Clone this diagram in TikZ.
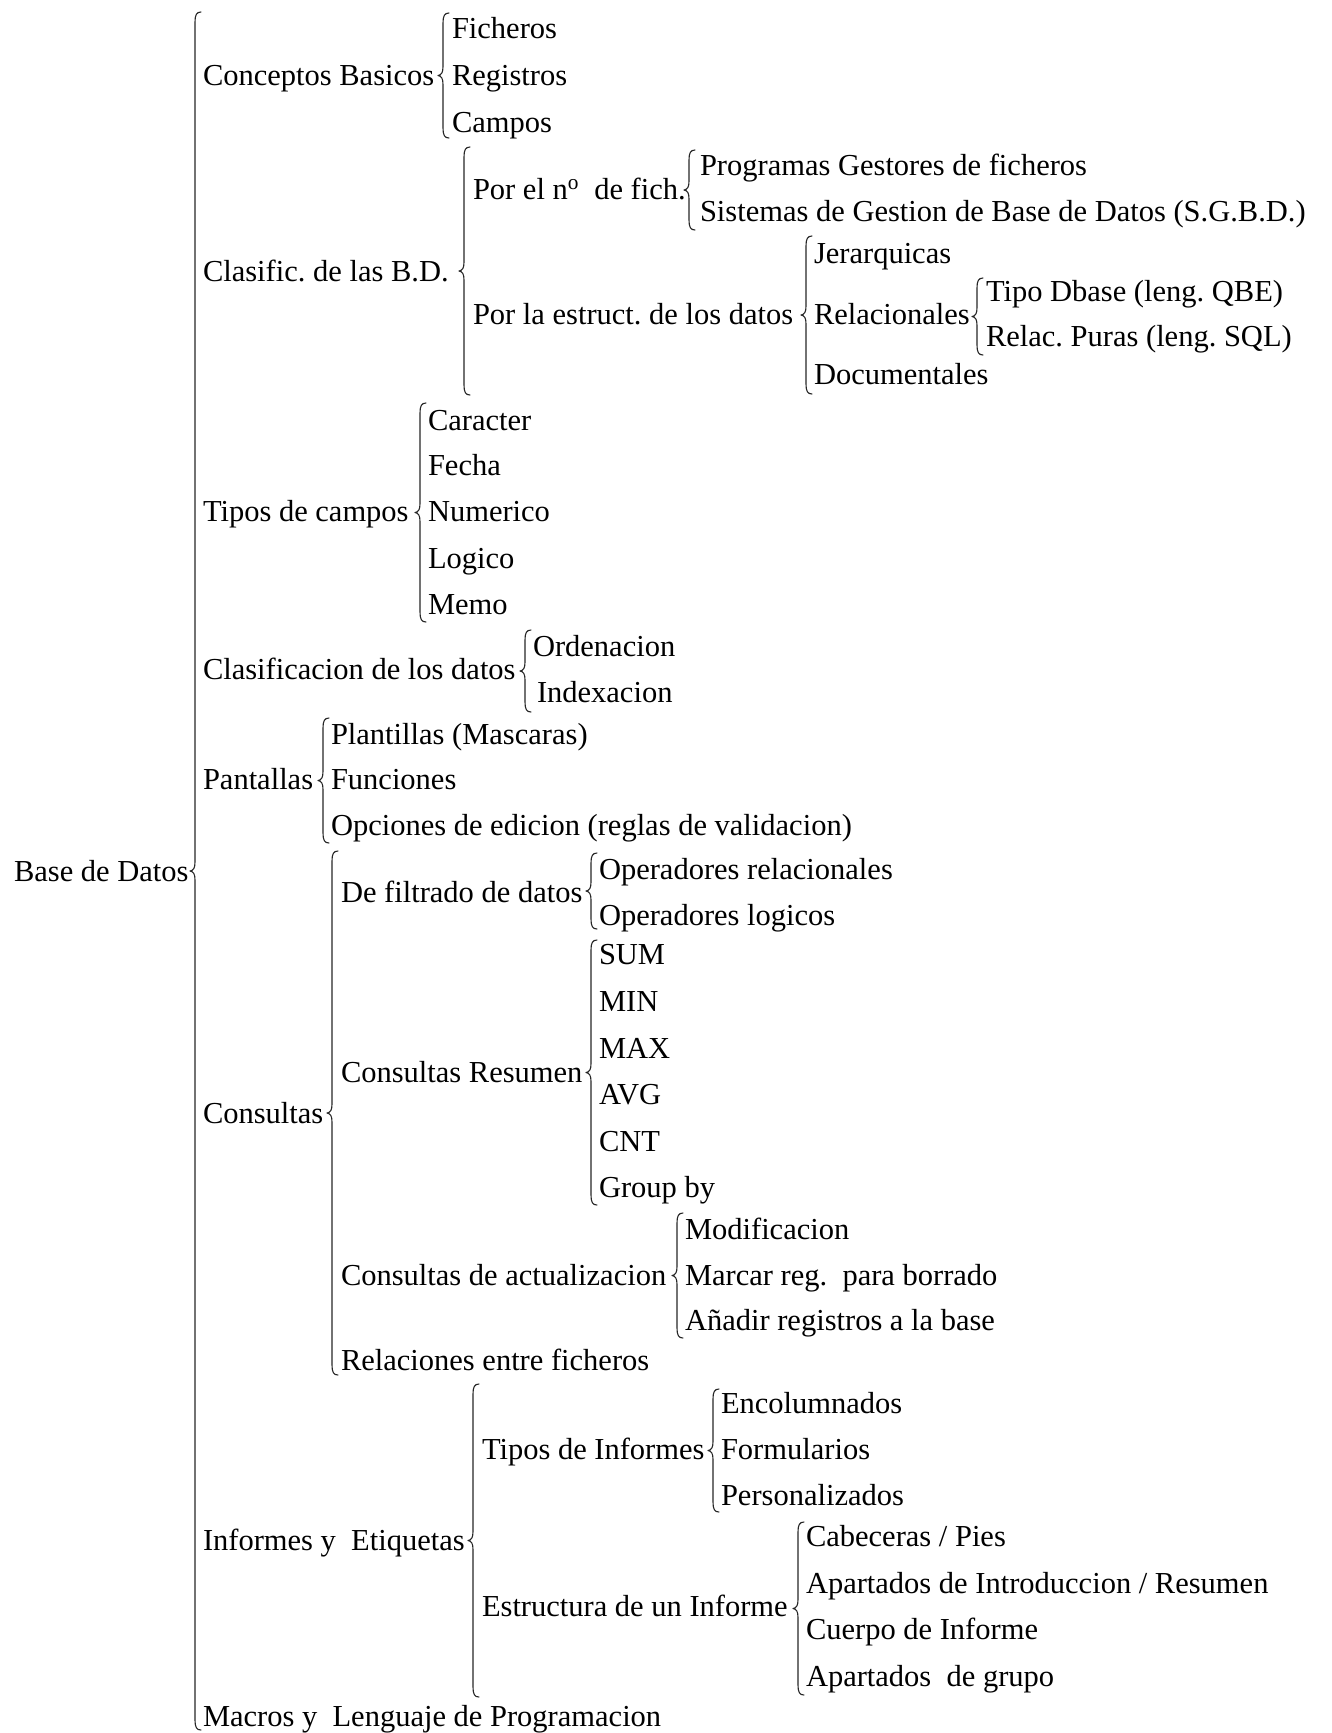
\documentclass[tikz,border=0pt]{standalone}
\usepackage{fontspec}
\setmainfont{Liberation Serif}
\begin{document}
\begin{tikzpicture}[x=1pt,y=-1pt,
  t/.style={anchor=base west, inner sep=0pt, outer sep=0pt,
            font=\fontsize{30.5}{36}\selectfont, text=black},
  brc/.style={line width=1.1pt, draw=black!85, line cap=round, line join=round}]
\useasboundingbox (0,0) rectangle (1332,1733);
% curly brace: vertical stroke at x=#1 from y=#2 to y=#3, point in the middle
\newcommand\tbrace[3]{%
  \pgfmathsetmacro\bm{(#2+#3)/2}%
  \draw[brc] (#1+6,#2) .. controls (#1+1.5,#2) and (#1,#2+3) .. (#1,#2+10)
    -- (#1,\bm-9) .. controls (#1,\bm-3) and (#1-1.5,\bm-0.5) .. (#1-5,\bm)
    .. controls (#1-1.5,\bm+0.5) and (#1,\bm+3) .. (#1,\bm+9)
    -- (#1,#3-10) .. controls (#1,#3-3) and (#1+1.5,#3) .. (#1+6,#3);}

% root
\node[t] (root) at (14,881) {Base de Datos};
\tbrace{195}{12}{1730}

% Conceptos Basicos
\node[t] (cb) at (203,85) {Conceptos Basicos};
\tbrace{443}{13}{138}
\node[t] (cb1) at (452,38) {Ficheros};
\node[t] (cb2) at (452,85) {Registros};
\node[t] (cb3) at (452,132) {Campos};

% Clasificacion de las B.D.
\node[t] (cl) at (203,281) {Clasific.\ de las B.D.};
\tbrace{464}{147}{395}
\node[t] (pn) at (473,199) {Por el n\textsuperscript{o}\ \ de fich.};
\tbrace{689}{150}{230}
\node[t] (pn1) at (700,175) {Programas Gestores de ficheros};
\node[t] (pn2) at (700,221) {Sistemas de Gestion de Base de Datos (S.G.B.D.)};
\node[t] (pe) at (473,324) {Por la estruct.\ de los datos};
\tbrace{806}{236}{394}
\node[t] (pe1) at (814,263) {Jerarquicas};
\node[t] (pe2) at (814,324) {Relacionales};
\node[t] (pe3) at (814,384) {Documentales};
\tbrace{977}{278}{355}
\node[t] (rl1) at (986,301) {Tipo Dbase (leng.\ QBE)};
\node[t] (rl2) at (986,346) {Relac.\ Puras (leng.\ SQL)};

% Tipos de campos
\node[t] (tc) at (203,521) {Tipos de campos};
\tbrace{420}{403}{622}
\node[t] (tc1) at (428,430) {Caracter};
\node[t] (tc2) at (428,475) {Fecha};
\node[t] (tc3) at (428,521) {Numerico};
\node[t] (tc4) at (428,568) {Logico};
\node[t] (tc5) at (428,614) {Memo};

% Clasificacion de los datos
\node[t] (cd) at (203,679) {Clasificacion de los datos};
\tbrace{525}{630}{712}
\node[t] (cd1) at (533,656) {Ordenacion};
\node[t] (cd2) at (537,702) {Indexacion};

% Pantallas
\node[t] (pa) at (203,789) {Pantallas};
\tbrace{323}{718}{843}
\node[t] (pa1) at (331,744) {Plantillas (Mascaras)};
\node[t] (pa2) at (331,789) {Funciones};
\node[t] (pa3) at (331,835) {Opciones de edicion (reglas de validacion)};

% Consultas
\node[t] (co) at (203,1123) {Consultas};
\tbrace{332}{851}{1375}
\node[t] (fd) at (341,902) {De filtrado de datos};
\tbrace{591}{853}{929}
\node[t] (fd1) at (599,879) {Operadores relacionales};
\node[t] (fd2) at (599,925) {Operadores logicos};
\node[t] (cr) at (341,1082) {Consultas Resumen};
\tbrace{591}{940}{1205}
\node[t] (cr1) at (599,964) {SUM};
\node[t] (cr2) at (599,1011) {MIN};
\node[t] (cr3) at (599,1058) {MAX};
\node[t] (cr4) at (599,1104) {AVG};
\node[t] (cr5) at (599,1151) {CNT};
\node[t] (cr6) at (599,1197) {Group by};
\node[t] (ca) at (341,1285) {Consultas de actualizacion};
\tbrace{677}{1213}{1338}
\node[t] (ca1) at (685,1239) {Modificacion};
\node[t] (ca2) at (685,1285) {Marcar reg.\ \ para borrado};
\node[t] (ca3) at (685,1330) {Añadir registros a la base};
\node[t] (re) at (341,1370) {Relaciones entre ficheros};

% Informes y Etiquetas
\node[t] (ie) at (203,1550) {Informes y\ \ Etiquetas};
\tbrace{473}{1384}{1697}
\node[t] (ti) at (482,1459) {Tipos de Informes};
\tbrace{713}{1389}{1512}
\node[t] (ti1) at (721,1413) {Encolumnados};
\node[t] (ti2) at (721,1459) {Formularios};
\node[t] (ti3) at (721,1505) {Personalizados};
\node[t] (es) at (482,1616) {Estructura de un Informe};
\tbrace{798}{1522}{1695}
\node[t] (es1) at (806,1546) {Cabeceras / Pies};
\node[t] (es2) at (806,1593) {Apartados de Introduccion / Resumen};
\node[t] (es3) at (806,1639) {Cuerpo de Informe};
\node[t] (es4) at (806,1686) {Apartados\ \ de grupo};

% Macros
\node[t] (ma) at (203,1726) {Macros y\ \ Lenguaje de Programacion};
\end{tikzpicture}
\end{document}
